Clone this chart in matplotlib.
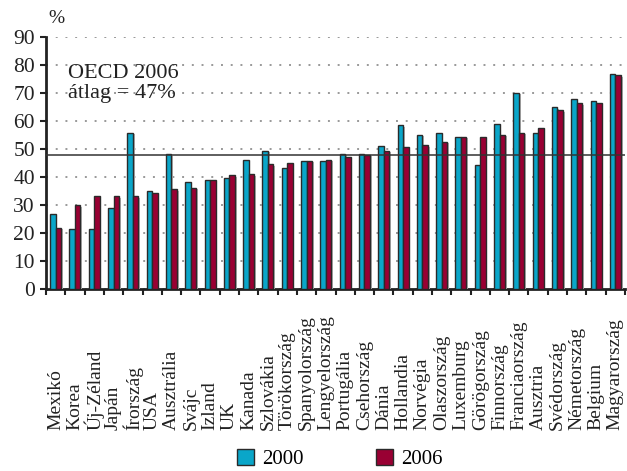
import numpy as np
import matplotlib.pyplot as plt
import matplotlib.patheffects as pe
from matplotlib.patches import Patch

plt.rcParams['font.family'] = ['Liberation Serif', 'DejaVu Serif']

# Data
countries = ["Mexikó", "Korea", "Új-Zéland", "Japán", "Írország", "USA", "Ausztrália",
             "Svájc", "Izland", "UK", "Kanada", "Szlovákia", "Törökország",
             "Spanyolország", "Lengyelország", "Portugália", "Csehország", "Dánia",
             "Hollandia", "Norvégia", "Olaszország", "Luxemburg", "Görögország",
             "Finnország", "Franciaország", "Ausztria", "Svédország", "Németország",
             "Belgium", "Magyarország"]
v2000 = [26.7, 21.3, 21.3, 29.0, 55.8, 34.8, 48.1, 38.1, 38.9, 39.6, 46.1, 49.4, 43.1,
         45.8, 45.5, 48.3, 48.3, 51.0, 58.5, 55.1, 55.8, 54.3, 44.3, 58.7, 70.0, 55.6,
         64.9, 67.9, 67.1, 76.8]
v2006 = [21.9, 30.0, 33.2, 33.2, 33.2, 34.3, 35.5, 36.2, 38.9, 40.7, 41.0, 44.6, 44.9,
         45.8, 46.1, 47.1, 47.9, 49.4, 50.7, 51.3, 52.6, 54.3, 54.3, 55.0, 55.8, 57.5,
         63.7, 66.3, 66.5, 76.2]
oecd_avg = 47.7
yticks = [0, 10, 20, 30, 40, 50, 60, 70, 80, 90]

c2000 = "#0aa6c9"
c2006 = "#990033"
edge = "#2a2a2a"

fig = plt.figure(figsize=(6.27, 4.71), dpi=100)
ax = fig.add_axes([0.0734, 0.3864, 0.9234, 0.5357])

x = np.arange(len(countries))
w = 0.285
shadow = [pe.SimplePatchShadow(offset=(1.2, -1.2), shadow_rgbFace="#b5b5b5", alpha=1), pe.Normal()]
b1 = ax.bar(x - w / 2, v2000, w, color=c2000, edgecolor=edge, linewidth=1, zorder=3)
b2 = ax.bar(x + w / 2, v2006, w, color=c2006, edgecolor=edge, linewidth=1, zorder=3)
for b in list(b1) + list(b2):
    b.set_path_effects(shadow)

ax.axhline(oecd_avg, color="#333333", linewidth=1.1, zorder=4)

ax.set_xlim(-0.5, len(countries) - 0.5)
ax.set_ylim(0, 90)
ax.set_yticks(yticks)
ax.yaxis.grid(True, linestyle=(0, (1, 4)), color="#999999", linewidth=1.4)
ax.set_axisbelow(True)
ax.set_xticks(np.arange(len(countries) + 1) - 0.5)
ax.set_xticklabels([])
ax.tick_params(axis="x", direction="out", length=4, width=1.5, color="#222222")
ax.tick_params(axis="y", direction="out", length=4, width=1.5, color="#222222",
               labelsize=15.5, pad=4, labelcolor="#222222")
for s in ["top", "right"]:
    ax.spines[s].set_visible(False)
for s in ["left", "bottom"]:
    ax.spines[s].set_linewidth(2)
    ax.spines[s].set_color("#222222")

for i, name in enumerate(countries):
    ax.text(i, -0.5595, name, transform=ax.get_xaxis_transform(), rotation=90,
            ha="center", va="bottom", fontsize=14, color="#222222")

ax.text(0.038, 0.89, "OECD 2006\nátlag = 47%", transform=ax.transAxes, fontsize=16,
        color="#222222", va="top", ha="left", linespacing=1.05)
fig.text(0.09, 0.96, "%", fontsize=14, ha="center", va="center", color="#222222")

handles = [Patch(facecolor=c2000, edgecolor=edge, label="2000"),
           Patch(facecolor=c2006, edgecolor=edge, label="2006")]
fig.legend(handles=handles, loc="center", bbox_to_anchor=(0.542, 0.025), ncol=2,
           frameon=False, fontsize=15, handlelength=0.8, handleheight=0.8,
           handletextpad=0.4, columnspacing=3.5)

fig.savefig("out.png", dpi=100)
